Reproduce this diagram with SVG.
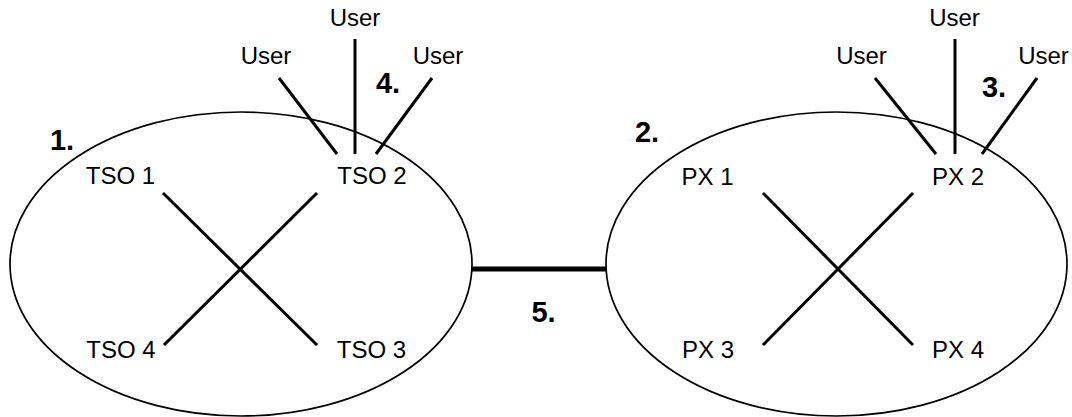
<svg xmlns="http://www.w3.org/2000/svg" width="1072" height="417" viewBox="0 0 1072 417">
<style>
.ell{fill:none;stroke:#000;stroke-width:1.7}
.ln{stroke:#000;stroke-width:3;fill:none}
.thick{stroke:#000;stroke-width:5;fill:none}
.t{font-family:"Liberation Sans",Arial,sans-serif;font-size:24px;fill:#000;text-anchor:middle}
.b{font-family:"Liberation Sans",Arial,sans-serif;font-size:29px;font-weight:bold;fill:#000;text-anchor:middle}
</style>
<rect width="1072" height="417" fill="#fff"/>
<g id="tso-network">
<ellipse class="ell" cx="241" cy="264" rx="231" ry="152"/>
<text class="b" x="62" y="150">1.</text>
</g>
<g id="px-network">
<ellipse class="ell" cx="836.5" cy="264" rx="230.5" ry="152"/>
<text class="b" x="647" y="142">2.</text>
</g>
<g id="tso1"><text class="t" x="120.5" y="184">TSO 1</text></g>
<g id="tso2"><text class="t" x="372" y="184">TSO 2</text></g>
<g id="tso3"><text class="t" x="371.5" y="358">TSO 3</text></g>
<g id="tso4"><text class="t" x="121" y="358">TSO 4</text></g>
<g id="px1"><text class="t" x="707.5" y="185">PX 1</text></g>
<g id="px2"><text class="t" x="958" y="185">PX 2</text></g>
<g id="px3"><text class="t" x="708" y="358">PX 3</text></g>
<g id="px4"><text class="t" x="958" y="358">PX 4</text></g>
<g id="users-tso">
<text class="t" x="266" y="64">User</text>
<text class="t" x="355" y="26">User</text>
<text class="t" x="438" y="64">User</text>
</g>
<g id="users-px">
<text class="t" x="861.5" y="64">User</text>
<text class="t" x="954.5" y="26">User</text>
<text class="t" x="1043.5" y="64">User</text>
</g>
<g id="connectors">
<line class="ln" x1="163" y1="193" x2="317" y2="345"/>
<line class="ln" x1="317" y1="193" x2="164" y2="345"/>
<line class="ln" x1="763" y1="193" x2="913" y2="345"/>
<line class="ln" x1="913" y1="193" x2="763" y2="345"/>
<line class="ln" x1="279" y1="78" x2="337" y2="154"/>
<line class="ln" x1="355" y1="39" x2="355" y2="154"/>
<line class="ln" x1="432" y1="78" x2="376" y2="154"/>
<line class="ln" x1="875" y1="78" x2="936" y2="154"/>
<line class="ln" x1="955" y1="39" x2="955" y2="154"/>
<line class="ln" x1="1037" y1="78" x2="982" y2="154"/>
<line class="thick" x1="472" y1="269" x2="606" y2="269"/>
</g>
<g id="labels">
<text class="b" x="388" y="93">4.</text>
<text class="b" x="994" y="97">3.</text>
<text class="b" x="543.5" y="322">5.</text>
</g>
</svg>
